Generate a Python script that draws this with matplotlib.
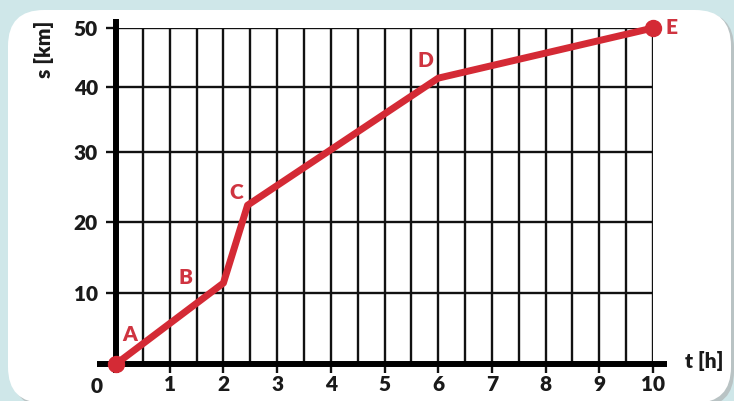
import matplotlib
matplotlib.use('Agg')
import matplotlib.pyplot as plt
import numpy as np
from matplotlib.patches import FancyBboxPatch

# distance-time data
t_points = [0, 2, 2.45, 6, 10]
s_points = [0, 11.4, 22.4, 41.5, 50]
point_names = ['A', 'B', 'C', 'D', 'E']
# label offsets from each point, in points
label_offsets = [(10, 21), (-27, 4), (-8, 9), (-9, 13), (13, 0)]

x_ticks = [1, 2, 3, 4, 5, 6, 7, 8, 9, 10]
y_ticks = [10, 20, 30, 40, 50]

# the printed grid is not evenly spaced vertically: pixel height of each level
s_knots = [-10, 0, 10, 20, 30, 40, 50, 60]
s_pixels = [-71, 0, 71, 142, 212, 277, 336, 395]

RED = '#d42a35'
LABEL_RED = '#cf3440'
INK = '#1a1a1a'
FONT = 'Lato'
FS = 15


def fwd(y):
    return np.interp(y, s_knots, s_pixels)


def inv(p):
    return np.interp(p, s_pixels, s_knots)


def draw_chart():
    fig = plt.figure(figsize=(7.34, 4.01), dpi=100)
    fig.patch.set_facecolor('#cfe7e9')

    # white rounded card with a soft shadow (drawn below the axes)
    shadow = FancyBboxPatch((0.12, -0.06), 7.22, 3.95,
                            boxstyle='round,pad=0,rounding_size=0.36',
                            transform=fig.dpi_scale_trans,
                            facecolor='#b9c3c4', edgecolor='none', zorder=-3)
    card = FancyBboxPatch((0.08, -0.02), 7.23, 3.93,
                          boxstyle='round,pad=0,rounding_size=0.36',
                          transform=fig.dpi_scale_trans,
                          facecolor='white', edgecolor='none', zorder=-2)
    fig.patches.extend([shadow, card])

    ax = fig.add_axes([116 / 734, 37 / 401, 537 / 734, 336 / 401])
    ax.set_yscale('function', functions=(fwd, inv))
    ax.set_xlim(0, 10)
    ax.set_ylim(0, 50)
    ax.patch.set_visible(False)
    for sp in ax.spines.values():
        sp.set_visible(False)

    # grid
    ax.vlines(np.arange(0.5, 10.01, 0.5), 0, 50, color='#111111', lw=1.7, zorder=1)
    ax.hlines(y_ticks, 0, 10, color='#111111', lw=1.7, zorder=1)

    # thick axes
    ax.plot([-0.35, 10.26], [0, 0], color='black', lw=4.3, solid_capstyle='butt',
            clip_on=False, zorder=2)
    ax.plot([0, 0], [-1.2, 51.6], color='black', lw=4.3, solid_capstyle='butt',
            clip_on=False, zorder=2)

    ax.set_xticks(x_ticks)
    ax.set_xticklabels([str(v) for v in x_ticks])
    ax.set_yticks(y_ticks)
    ax.set_yticklabels([str(v) for v in y_ticks])
    ax.yaxis.set_minor_locator(plt.NullLocator())
    ax.tick_params(axis='x', length=6.5, width=1.7, direction='out', pad=1.5,
                   color='#111111')
    ax.tick_params(axis='y', length=7, width=1.7, direction='out', pad=6,
                   color='#111111')
    for lab in ax.get_xticklabels() + ax.get_yticklabels():
        lab.set_fontfamily(FONT)
        lab.set_fontweight('heavy')
        lab.set_fontsize(FS)
        lab.set_color(INK)

    ax.text(-0.37, -1.9, '0', ha='center', va='top', fontsize=FS,
            fontweight='heavy', family=FONT, color=INK)
    ax.text(-1.34, 46.4, 's [km]', rotation=90, ha='center', va='center',
            fontsize=FS, fontweight='heavy', family=FONT, color=INK)
    ax.text(10.95, 0.4, 't [h]', ha='center', va='center', fontsize=FS,
            fontweight='heavy', family=FONT, color=INK)

    # the journey
    ax.plot(t_points, s_points, color=RED, lw=5, solid_joinstyle='round',
            solid_capstyle='round', clip_on=False, zorder=3)
    ax.plot([t_points[0], t_points[-1]], [s_points[0], s_points[-1]], 'o',
            color=RED, markersize=11.5, clip_on=False, zorder=4)

    for name, t, s, off in zip(point_names, t_points, s_points, label_offsets):
        ax.annotate(name, (t, s), xytext=off, textcoords='offset points',
                    ha='center', va='center', fontsize=FS, fontweight='heavy',
                    family=FONT, color=LABEL_RED, zorder=5)

    fig.savefig('out.png', dpi=100, facecolor=fig.get_facecolor())


if __name__ == "__main__":
    draw_chart()
